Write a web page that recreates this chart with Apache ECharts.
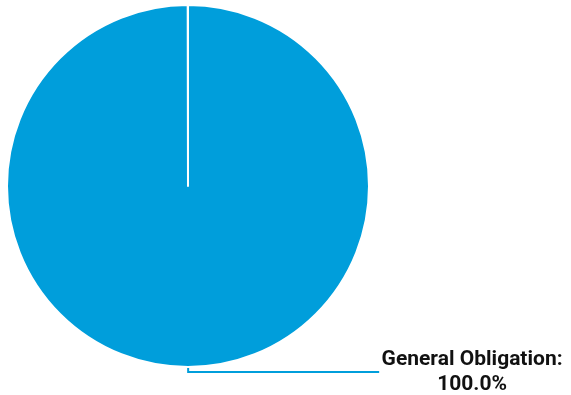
<!DOCTYPE html>
<html>
<head>
<meta charset="utf-8">
<script src="https://cdn.jsdelivr.net/npm/echarts@6/dist/echarts.min.js"></script>
<style>
  html, body { margin: 0; padding: 0; background: #fff; }
  #chart { width: 571px; height: 395px; }
</style>
</head>
<body>
<div id="chart"></div>
<script>
  // data
  var categories = ['General Obligation'];
  var values = [100.0];
  var colors = ['#009edb'];

  var chart = echarts.init(document.getElementById('chart'));

  var option = {
    animation: false,
    color: colors,
    series: [
      {
        type: 'pie',
        center: [188, 186],
        radius: 181,
        // leave a hair-thin gap so the slice border is drawn along the start radius
        startAngle: 90,
        endAngle: -269.9,
        clockwise: true,
        data: categories.map(function (c, i) {
          return { name: c, value: values[i] };
        }),
        itemStyle: {
          borderColor: '#fff',
          borderWidth: 2
        },
        label: {
          show: true,
          overflow: 'none',
          edgeDistance: 0,
          distanceToLabelLine: 4,
          formatter: function (p) {
            return '{a|' + p.name + ':}\n{b|' + p.value.toFixed(1) + '%}';
          },
          rich: {
            a: { fontFamily: 'Roboto', fontWeight: 'bold', fontSize: 21, color: '#111', lineHeight: 25, align: 'center' },
            b: { fontFamily: 'Roboto', fontWeight: 'bold', fontSize: 21, color: '#111', lineHeight: 25, align: 'center' }
          }
        },
        labelLine: {
          show: true,
          length: 5,
          length2: 191,
          lineStyle: { color: '#009edb', width: 2 }
        }
      }
    ]
  };

  chart.setOption(option);
</script>
</body>
</html>
